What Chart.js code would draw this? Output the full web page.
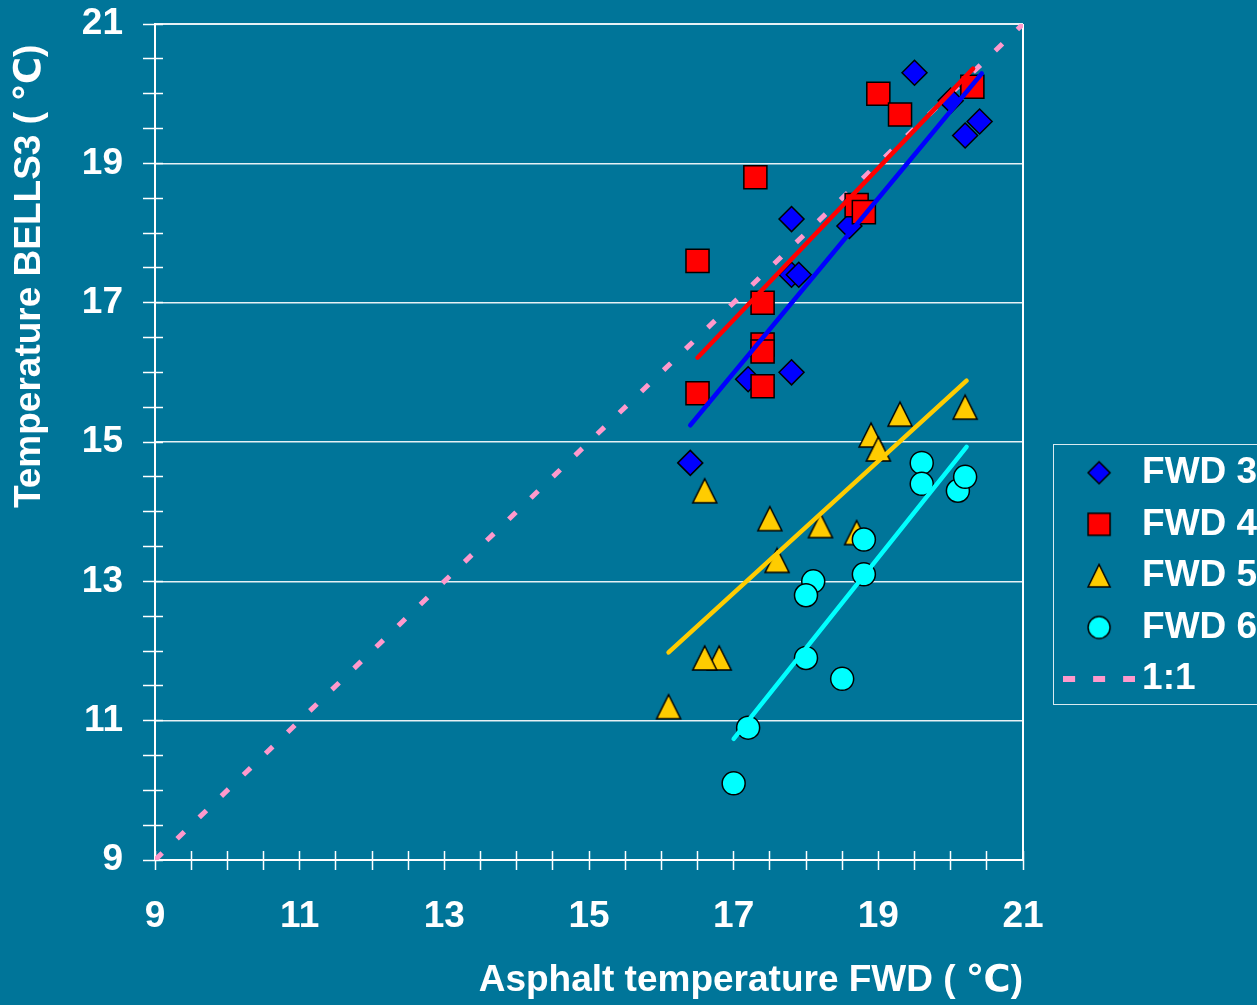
<!DOCTYPE html>
<html>
<head>
<meta charset="utf-8">
<script src="https://cdn.jsdelivr.net/npm/chart.js@4"></script>
<style>
html,body{margin:0;padding:0;background:#007599;overflow:hidden}
#wrap{width:1257px;height:1005px;position:relative}
canvas{display:block}
</style>
</head>
<body>
<div id="wrap"><canvas id="c" width="1257" height="1005" style="width:1257px;height:1005px"></canvas></div>
<script>
// ---------------- data ----------------
const seriesNames = ['FWD 3', 'FWD 4', 'FWD 5', 'FWD 6', '1:1'];

const fwd3X = [16.4, 17.2, 17.8, 17.8, 17.9, 17.8, 18.6, 19.5, 20.0, 20.2, 20.4];
const fwd3Y = [14.7, 15.9, 16.0, 17.4, 17.4, 18.2, 18.1, 20.3, 19.9, 19.4, 19.6];

const fwd4X = [16.5, 16.5, 17.3, 17.4, 17.4, 17.4, 17.4, 18.7, 18.8, 19.0, 19.3, 20.3];
const fwd4Y = [17.6, 15.7, 18.8, 17.0, 16.4, 16.3, 15.8, 18.4, 18.3, 20.0, 19.7, 20.1];

const fwd5X = [16.1, 16.6, 16.8, 16.6, 17.5, 17.6, 18.2, 18.7, 18.9, 19.0, 19.3, 20.2];
const fwd5Y = [11.2, 14.3, 11.9, 11.9, 13.9, 13.3, 13.8, 13.7, 15.1, 14.9, 15.4, 15.5];

const fwd6X = [17.0, 17.2, 18.0, 18.1, 18.0, 18.5, 18.8, 18.8, 19.6, 19.6, 20.1, 20.2];
const fwd6Y = [10.1, 10.9, 11.9, 13.0, 12.8, 11.6, 13.1, 13.6, 14.7, 14.4, 14.3, 14.5];

// trend lines (end points)
const trend3X = [16.4, 20.43];
const trend3Y = [15.24, 20.29];
const trend4X = [16.5, 20.31];
const trend4Y = [16.21, 20.36];
const trend5X = [16.1, 20.22];
const trend5Y = [11.98, 15.88];
const trend6X = [17.0, 20.22];
const trend6Y = [10.74, 14.93];

// 1:1 reference line
const oneX = [9, 21];
const oneY = [9, 21];

// axes
const axisMin = 9;
const axisMax = 21;
const xTickLabels = ['9', '11', '13', '15', '17', '19', '21'];
const yTickLabels = ['9', '11', '13', '15', '17', '19', '21'];
const xTitle = 'Asphalt temperature FWD ( \u2103)';
const yTitle = 'Temperature BELLS3 ( \u2103)';

// ---------------- helpers ----------------
const minorTicks = [];
for (let v = axisMin; v <= axisMax + 1e-9; v += 0.5) minorTicks.push(v);
const xMajor = xTickLabels.map(Number);
const yMajor = yTickLabels.map(Number);
const toPts = (xs, ys) => xs.map((x, i) => ({x: x, y: ys[i]}));

const FAMILY = '"Liberation Sans", Arial, "DejaVu Sans", sans-serif';
const font = {family: FAMILY, size: 37, weight: 'bold', lineHeight: 1.2};
const WHITE = '#ffffff';
const CLEAR = 'rgba(0,0,0,0)';

Chart.defaults.font.family = FAMILY;
Chart.defaults.color = WHITE;

// marker / legend icons
function makeIcon(w, h, draw) {
  const c = document.createElement('canvas');
  c.width = w; c.height = h;
  draw(c.getContext('2d'));
  return c;
}
const triangleMarker = makeIcon(28, 28, g => {
  g.beginPath(); g.moveTo(14, 2); g.lineTo(26, 26); g.lineTo(2, 26); g.closePath();
  g.fillStyle = '#ffcc00'; g.fill(); g.lineWidth = 1.5; g.strokeStyle = '#000'; g.stroke();
});
const legendIcons = {
  'FWD 3': makeIcon(26, 26, g => {
    g.beginPath(); g.moveTo(13, 2); g.lineTo(24, 13); g.lineTo(13, 24); g.lineTo(2, 13); g.closePath();
    g.fillStyle = '#0000ff'; g.fill(); g.lineWidth = 1.5; g.strokeStyle = '#000'; g.stroke();
  }),
  'FWD 4': makeIcon(26, 26, g => {
    g.beginPath(); g.rect(2, 2, 22, 22);
    g.fillStyle = '#ff0000'; g.fill(); g.lineWidth = 1.5; g.strokeStyle = '#000'; g.stroke();
  }),
  'FWD 5': makeIcon(26, 26, g => {
    g.beginPath(); g.moveTo(13, 1.5); g.lineTo(24, 24); g.lineTo(2, 24); g.closePath();
    g.fillStyle = '#ffcc00'; g.fill(); g.lineWidth = 1.5; g.strokeStyle = '#000'; g.stroke();
  }),
  'FWD 6': makeIcon(26, 26, g => {
    g.beginPath(); g.arc(13, 13, 11, 0, Math.PI * 2);
    g.fillStyle = '#00ffff'; g.fill(); g.lineWidth = 1.5; g.strokeStyle = '#000'; g.stroke();
  }),
  '1:1': makeIcon(72, 6, g => {
    g.fillStyle = '#ff99cc';
    g.fillRect(0, 0, 12, 6); g.fillRect(30, 0, 12, 6); g.fillRect(60, 0, 12, 6);
  })
};

// place the legend like the original (partly outside the picture) and frame it
const legendPlacer = {
  id: 'legendPlacer',
  afterLayout(chart) {
    const lg = chart.legend;
    if (!lg) return;
    lg.left = 1060; lg.top = 439.6; lg.right = 1257; lg.bottom = 1005;
    lg.width = lg.right - lg.left; lg.height = lg.bottom - lg.top;
  },
  afterDraw(chart) {
    const ctx = chart.ctx;
    ctx.save();
    ctx.strokeStyle = 'rgba(255,255,255,0.85)';
    ctx.lineWidth = 1;
    ctx.strokeRect(1053.5, 444.5, 400, 260);
    ctx.restore();
  }
};

const scatterSet = (label, xs, ys, style, radius, color, order) => ({
  label: label,
  data: toPts(xs, ys),
  showLine: false,
  pointStyle: style,
  pointRadius: radius,
  pointHoverRadius: radius,
  backgroundColor: color,
  pointBackgroundColor: color,
  borderColor: '#000000',
  pointBorderColor: '#000000',
  borderWidth: 1.5,
  pointBorderWidth: 1.5,
  order: order,
  xAxisID: 'x', yAxisID: 'y'
});
const lineSet = (label, xs, ys, color, width, order, dash) => ({
  label: label,
  data: toPts(xs, ys),
  showLine: true,
  pointRadius: 0,
  pointHoverRadius: 0,
  borderColor: color,
  backgroundColor: color,
  borderWidth: width,
  borderCapStyle: dash ? 'butt' : 'round',
  borderDash: dash || [],
  tension: 0,
  fill: false,
  order: order,
  xAxisID: 'x', yAxisID: 'y'
});

const tickSetter = s => { s.ticks = minorTicks.map(v => ({value: v})); };

new Chart(document.getElementById('c'), {
  type: 'scatter',
  data: {
    datasets: [
      scatterSet(seriesNames[0], fwd3X, fwd3Y, 'rectRot', 12.5, '#0000ff', 9),
      scatterSet(seriesNames[1], fwd4X, fwd4Y, 'rect', 16.3, '#ff0000', 8),
      scatterSet(seriesNames[2], fwd5X, fwd5Y, triangleMarker, 13, '#ffcc00', 7),
      scatterSet(seriesNames[3], fwd6X, fwd6Y, 'circle', 11.5, '#00ffff', 6),
      lineSet(seriesNames[4], oneX, oneY, '#ff99cc', 5, 10, [10, 20.7]),
      lineSet('trend FWD 3', trend3X, trend3Y, '#0000ff', 4.5, 4),
      lineSet('trend FWD 4', trend4X, trend4Y, '#ff0000', 4.5, 3),
      lineSet('trend FWD 5', trend5X, trend5Y, '#ffcc00', 4.5, 2),
      lineSet('trend FWD 6', trend6X, trend6Y, '#00ffff', 4.5, 1)
    ]
  },
  options: {
    responsive: false,
    animation: false,
    events: [],
    layout: {autoPadding: false, padding: {top: 24, right: 234, left: 0, bottom: 0}},
    plugins: {
      tooltip: {enabled: false},
      title: {display: false},
      legend: {
        display: true,
        position: 'chartArea',
        align: 'start',
        labels: {
          usePointStyle: true,
          pointStyleWidth: 49,
          boxWidth: 49,
          boxHeight: 37,
          padding: 14.6,
          color: WHITE,
          font: font,
          generateLabels(chart) {
            const base = Chart.defaults.plugins.legend.labels.generateLabels(chart);
            return seriesNames.map(name => {
              const it = base.find(b => b.text === name);
              return Object.assign({}, it, {pointStyle: legendIcons[name], lineDash: [], lineWidth: 0, rotation: 0});
            });
          }
        }
      }
    },
    scales: {
      x: {
        type: 'linear', position: 'bottom', min: axisMin, max: axisMax,
        afterBuildTicks: tickSetter,
        afterFit: s => { s.height = 145; },
        ticks: {
          autoSkip: false, maxRotation: 0, minRotation: 0, padding: 25, color: WHITE, font: font,
          callback: v => xMajor.includes(v) ? xTickLabels[xMajor.indexOf(v)] : ''
        },
        grid: {
          drawOnChartArea: true,
          color: c => (c.tick && c.tick.value === axisMax) ? WHITE : CLEAR,
          lineWidth: 2, tickColor: CLEAR, tickLength: 10, tickWidth: 1.5
        },
        border: {display: true, color: WHITE, width: 2},
        title: {display: true, text: xTitle, align: 'end', color: WHITE, font: font, padding: {top: 0, bottom: 2}}
      },
      y: {
        type: 'linear', position: 'left', min: axisMin, max: axisMax,
        afterBuildTicks: tickSetter,
        afterFit: s => { s.width = 155; },
        ticks: {
          autoSkip: false, padding: 1, color: WHITE, font: font,
          callback: v => yMajor.includes(v) ? yTickLabels[yMajor.indexOf(v)] : ''
        },
        grid: {
          drawOnChartArea: true,
          color: c => (c.tick && yMajor.includes(c.tick.value) && c.tick.value !== axisMin) ? 'rgba(255,255,255,0.9)' : CLEAR,
          lineWidth: c => (c.tick && c.tick.value === axisMax) ? 2 : 1.5,
          tickColor: CLEAR, tickLength: 31, tickWidth: 1.5
        },
        border: {display: true, color: WHITE, width: 2},
        title: {display: true, text: yTitle + '  ', align: 'end', color: WHITE, font: font, padding: {top: 8, bottom: 0}}
      },
      x2: {
        type: 'linear', axis: 'x', position: {y: 9 + 9 / 69.67}, min: axisMin, max: axisMax,
        afterBuildTicks: tickSetter,
        ticks: {display: false},
        grid: {drawOnChartArea: false, drawTicks: true, tickLength: 19, tickColor: WHITE, tickWidth: 1.5},
        border: {display: false}
      },
      y2: {
        type: 'linear', axis: 'y', position: {x: 9 + 8 / 72.33}, min: axisMin, max: axisMax,
        afterBuildTicks: tickSetter,
        ticks: {display: false},
        grid: {drawOnChartArea: false, drawTicks: true, tickLength: 20, tickColor: WHITE, tickWidth: 1.5},
        border: {display: false}
      }
    }
  },
  plugins: [legendPlacer]
});
</script>
</body>
</html>
